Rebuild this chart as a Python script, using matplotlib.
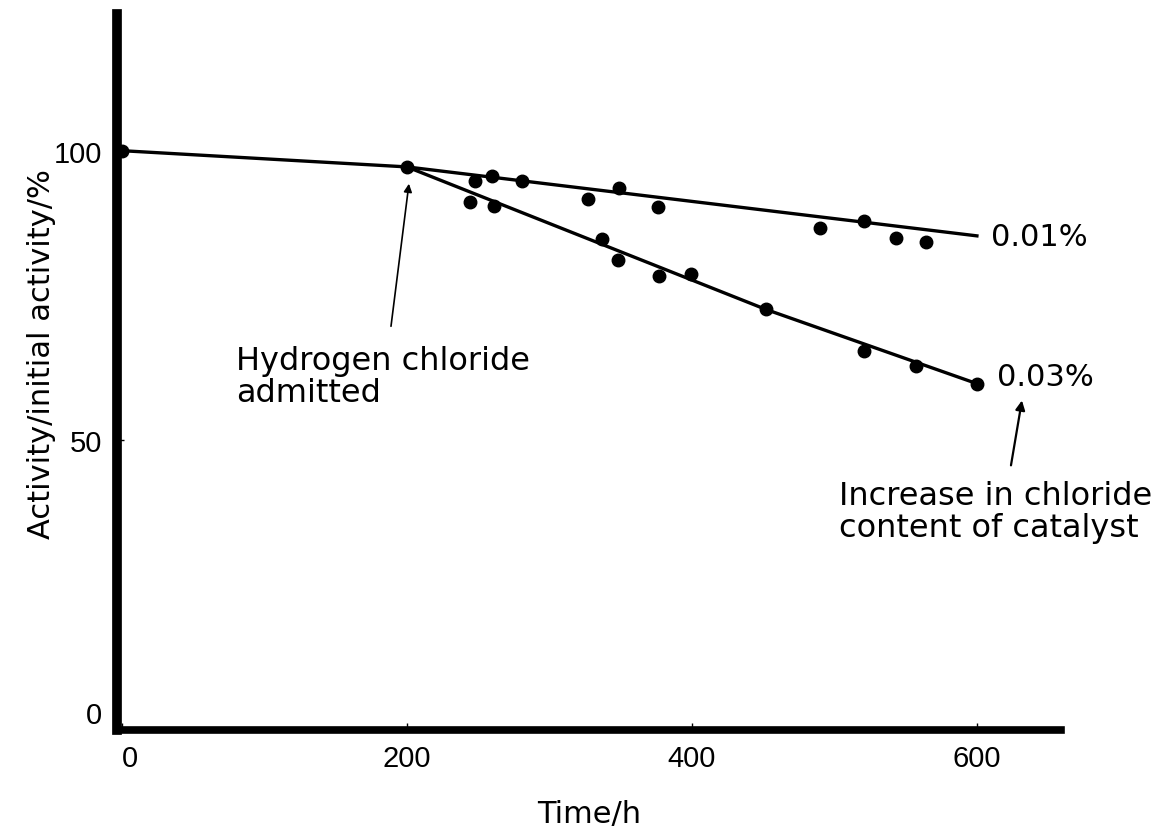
import matplotlib
matplotlib.use("Agg")
import matplotlib.pyplot as plt
from matplotlib.transforms import ScaledTranslation

plt.rcParams['font.family'] = ['DejaVu Sans']

# fitted curves
line_low_t = [0, 200, 600]
line_low_a = [100, 97.2, 85.3]
line_high_t = [200, 452, 600]
line_high_a = [97.2, 72.6, 59.8]

# measured points, 0.01% HCl
pts_low_t = [0, 200, 248, 260, 281, 327, 349, 376, 490, 521, 543, 564]
pts_low_a = [100, 97.2, 94.8, 95.7, 94.7, 91.7, 93.6, 90.3, 86.6, 87.9, 85.0, 84.3]
# measured points, 0.03% HCl
pts_high_t = [244, 261, 337, 348, 377, 399, 452, 521, 557, 600]
pts_high_a = [91.2, 90.5, 84.8, 81.2, 78.4, 78.8, 72.6, 65.5, 62.9, 59.8]

xticks = [0, 200, 400, 600]
yticks = [0, 50, 100]

fig = plt.figure(figsize=(11.64, 8.29), dpi=100)
ax = fig.add_axes([0.1005, 0.118, 0.811, 0.864])

ax.plot(line_low_t, line_low_a, color='black', lw=2.4)
ax.plot(line_high_t, line_high_a, color='black', lw=2.4)
ax.plot(pts_low_t, pts_low_a, 'o', color='black', ms=9)
ax.plot(pts_high_t, pts_high_a, 'o', color='black', ms=9)

ax.set_xlim(-3.5, 659)
ax.set_ylim(0, 123.6)

for side in ['top', 'right']:
    ax.spines[side].set_visible(False)
ax.spines['left'].set_linewidth(7)
ax.spines['bottom'].set_linewidth(5.5)

ax.set_xticks(xticks)
ax.set_yticks(yticks)
ax.tick_params(direction='in', length=5, width=1, labelsize=21, pad=10)
ax.tick_params(axis='y', pad=11)
for lab in ax.get_xticklabels() + ax.get_yticklabels():
    lab.set_fontfamily('Liberation Sans')

# the zero labels sit a little off their ticks in the original
ylabs = ax.get_yticklabels()
ylabs[0].set_transform(ylabs[0].get_transform() + ScaledTranslation(0, 13 / 72, fig.dpi_scale_trans))
xlabs = ax.get_xticklabels()
xlabs[0].set_transform(xlabs[0].get_transform() + ScaledTranslation(6 / 72, 0, fig.dpi_scale_trans))

ax.set_xlabel('Time/h', fontsize=22)
ax.xaxis.set_label_coords(0.5, -0.096)
ax.set_ylabel('Activity/initial activity/%', fontsize=22)
ax.yaxis.set_label_coords(-0.065, 0.527)

ax.text(610, 85.2, '0.01%', fontsize=22, va='center', ha='left')
ax.text(614, 61, '0.03%', fontsize=22, va='center', ha='left')

ax.text(80, 61.0, 'Hydrogen chloride\nadmitted', fontsize=23,
        va='center', ha='left', linespacing=1.05)
ax.annotate('', xy=(201.4, 94.3), xytext=(188.8, 69.7),
            arrowprops=dict(arrowstyle='-|>', color='black', lw=1.2,
                            mutation_scale=12, shrinkA=0, shrinkB=0))

ax.text(503, 37.8, 'Increase in chloride\ncontent of catalyst', fontsize=23,
        va='center', ha='left', linespacing=1.05)
ax.annotate('', xy=(631.6, 56.9), xytext=(623.9, 45.7),
            arrowprops=dict(arrowstyle='-|>', color='black', lw=1.6,
                            mutation_scale=14, shrinkA=0, shrinkB=0))

fig.savefig('out.png', dpi=100)
